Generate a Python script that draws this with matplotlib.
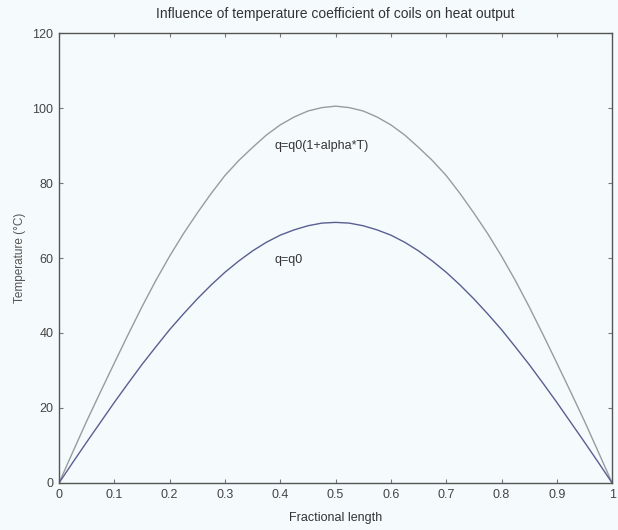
import matplotlib
matplotlib.use("Agg")
import matplotlib.pyplot as plt

plt.rcParams["font.family"] = ["Liberation Sans", "DejaVu Sans"]

# values
x = [0.0, 0.025, 0.05, 0.075, 0.1, 0.125, 0.15, 0.175, 0.2, 0.225, 0.25,
     0.275, 0.3, 0.325, 0.35, 0.375, 0.4, 0.425, 0.45, 0.475, 0.5,
     0.525, 0.55, 0.575, 0.6, 0.625, 0.65, 0.675, 0.7, 0.725, 0.75,
     0.775, 0.8, 0.825, 0.85, 0.875, 0.9, 0.925, 0.95, 0.975, 1.0]
t_const = [0.0, 5.5, 10.9, 16.2, 21.5, 26.6, 31.6, 36.3, 40.9, 45.1, 49.1,
           52.8, 56.2, 59.2, 61.9, 64.2, 66.1, 67.5, 68.6, 69.3, 69.5,
           69.3, 68.6, 67.5, 66.1, 64.2, 61.9, 59.2, 56.2, 52.8, 49.1,
           45.1, 40.9, 36.3, 31.6, 26.6, 21.5, 16.2, 10.9, 5.5, 0.0]
t_alpha = [0.0, 8.3, 16.5, 24.3, 32.0, 39.6, 47.0, 54.0, 60.5, 66.5, 72.0,
           77.2, 82.0, 86.0, 89.5, 92.8, 95.5, 97.6, 99.2, 100.1, 100.5,
           100.1, 99.2, 97.6, 95.5, 92.8, 89.5, 86.0, 82.0, 77.2, 72.0,
           66.5, 60.5, 54.0, 47.0, 39.6, 32.0, 24.3, 16.5, 8.3, 0.0]

xticks = [0, 0.1, 0.2, 0.3, 0.4, 0.5, 0.6, 0.7, 0.8, 0.9, 1]
xticklabels = ["0", "0.1", "0.2", "0.3", "0.4", "0.5", "0.6", "0.7", "0.8", "0.9", "1"]
yticks = [0, 20, 40, 60, 80, 100, 120]

bg = "#f5fbfc"
fig = plt.figure(figsize=(6.18, 5.3), dpi=100, facecolor=bg)
ax = fig.add_axes([0.0955, 0.0887, 0.895, 0.849], facecolor=bg)

ax.plot(x, t_alpha, color="#979d9d", lw=1.0)
ax.plot(x, t_const, color="#5a5e92", lw=1.0)

ax.text(0.39, 90, "q=q0(1+alpha*T)", fontsize=9, color="#333333", va="center")
ax.text(0.39, 59.5, "q=q0", fontsize=9, color="#333333", va="center")

ax.set_xlim(0, 1)
ax.set_ylim(0, 120)
ax.set_xticks(xticks)
ax.set_xticklabels(xticklabels)
ax.set_yticks(yticks)
ax.tick_params(direction="in", length=3, width=0.8, labelsize=9, colors="#777777",
               labelcolor="#444444", top=True, right=True, pad=4)
for s in ax.spines.values():
    s.set_color("#555555")
    s.set_linewidth(1.0)

ax.set_title("Influence of temperature coefficient of coils on heat output",
             fontsize=10, color="#333333", pad=11)
ax.set_xlabel("Fractional length", fontsize=9, color="#333333", labelpad=8)
ax.set_ylabel("Temperature (°C)", fontsize=8.5, color="#555555", labelpad=5)

plt.savefig("out.png", dpi=100, facecolor=bg)
